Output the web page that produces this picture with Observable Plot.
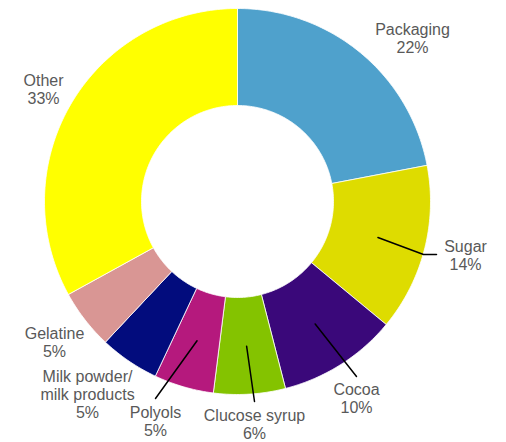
<!DOCTYPE html>
<html>
<head>
<meta charset="utf-8">
<script src="https://cdn.jsdelivr.net/npm/d3@7"></script>
<script src="https://cdn.jsdelivr.net/npm/@observablehq/plot@0.6"></script>
<style>
  html, body { margin: 0; padding: 0; background: #fff; }
  #chart { width: 506px; height: 442px; }
</style>
</head>
<body>
<div id="chart"></div>
<script>
// ---- data ----
const categories = ["Packaging", "Sugar", "Cocoa", "Clucose syrup", "Polyols", "Milk powder/\nmilk products", "Gelatine", "Other"];
const shares = [22, 14, 10, 6, 5, 5, 5, 33];
const colors = ["#4fa1cc", "#dedc00", "#3a087a", "#84c300", "#b5197d", "#020c7d", "#d99694", "#ffff00"];

// ---- layout (pixel positions of label blocks, leader end points) ----
const W = 506, H = 442, CX = 237, CY = 201;
const R_OUT = 193, R_IN = 96, R_MID = 145;
const labelPx = [[412, 38], [465, 255], [356, 398], [254, 424], [155, 421], [87, 394], [54, 342], [43, 89]];
const leaderEnds = {1: [[423, 254], [436, 254]], 2: [[356, 376]], 3: [[254, 401]], 4: [[155, 398]]};

const toX = px => px - CX;
const toY = py => CY - py;

// slice polygons from the shares
const total = d3.sum(shares);
const slices = [];
const mids = [];
let acc = 0;
shares.forEach((v, i) => {
  const a0 = acc / total * 2 * Math.PI;
  acc += v;
  const a1 = acc / total * 2 * Math.PI;
  const n = Math.max(8, Math.ceil((a1 - a0) / (Math.PI / 180)));
  const pts = [];
  for (let k = 0; k <= n; k++) {
    const a = a0 + (a1 - a0) * k / n;
    pts.push([R_OUT * Math.sin(a), R_OUT * Math.cos(a)]);
  }
  for (let k = n; k >= 0; k--) {
    const a = a0 + (a1 - a0) * k / n;
    pts.push([R_IN * Math.sin(a), R_IN * Math.cos(a)]);
  }
  pts.push(pts[0]);
  pts.forEach(([x, y]) => slices.push({name: categories[i], x, y}));
  mids[i] = (a0 + a1) / 2;
});

const leaders = [];
Object.entries(leaderEnds).forEach(([i, ends]) => {
  const a = mids[i];
  leaders.push({id: i, x: R_MID * Math.sin(a), y: R_MID * Math.cos(a)});
  ends.forEach(([px, py]) => leaders.push({id: i, x: toX(px), y: toY(py)}));
});

const labels = categories.map((c, i) => ({
  text: `${c}\n${shares[i]}%`,
  x: toX(labelPx[i][0]),
  y: toY(labelPx[i][1])
}));

const plot = Plot.plot({
  width: W,
  height: H,
  margin: 0,
  x: {domain: [-CX, W - CX], axis: null},
  y: {domain: [CY - H, CY], axis: null},
  color: {domain: categories, range: colors},
  style: {background: "#fff", fontFamily: "'Liberation Sans', Arial, sans-serif"},
  marks: [
    Plot.line(slices, {x: "x", y: "y", z: "name", fill: "name", stroke: "#fff", strokeWidth: 0.8, curve: "linear"}),
    Plot.line(leaders, {x: "x", y: "y", z: "id", stroke: "#000", strokeWidth: 1.5}),
    Plot.text(labels, {x: "x", y: "y", text: "text", fill: "#595959", fontSize: 16, lineHeight: 1.13, textAnchor: "middle", lineAnchor: "middle", fontFamily: "'Liberation Sans', Arial, sans-serif"})
  ]
});
document.getElementById("chart").appendChild(plot);
</script>
</body>
</html>
